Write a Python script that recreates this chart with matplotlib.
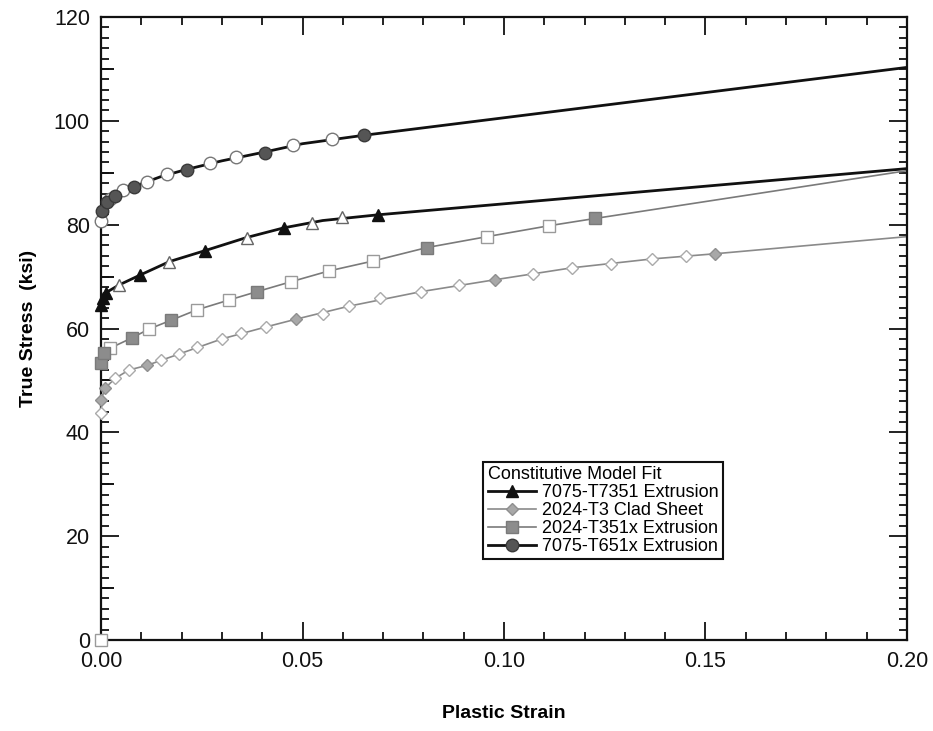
import matplotlib
matplotlib.use("Agg")
import matplotlib.pyplot as plt
from matplotlib.ticker import MultipleLocator

plt.rcParams['font.family'] = ['Liberation Sans', 'DejaVu Sans']

# 7075-T651x extrusion (circles)
t651_fit_x = [0.0, 0.0015, 0.0035, 0.008, 0.015, 0.021, 0.030, 0.040, 0.050, 0.065, 0.20]
t651_fit_y = [82.7, 84.3, 85.6, 87.3, 89.3, 90.6, 92.3, 93.9, 95.6, 97.2, 110.3]
t651_fill_x = [0.0002, 0.0015, 0.0035, 0.0082, 0.0213, 0.0407, 0.0653]
t651_fill_y = [82.7, 84.3, 85.6, 87.3, 90.6, 93.9, 97.2]
t651_open_x = [0.0, 0.0022, 0.0055, 0.0114, 0.0164, 0.027, 0.0335, 0.0476, 0.0573]
t651_open_y = [80.8, 85.0, 86.6, 88.3, 89.7, 91.8, 93.1, 95.3, 96.6]

# 7075-T7351 extrusion (triangles)
t7351_fit_x = [0.0, 0.0005, 0.0012, 0.0045, 0.0097, 0.017, 0.0258, 0.036, 0.0454, 0.055, 0.0687, 0.20]
t7351_fit_y = [64.5, 65.8, 66.9, 68.4, 70.3, 72.9, 75.0, 77.5, 79.4, 80.8, 81.9, 90.8]
t7351_fill_x = [0.0, 0.0005, 0.0012, 0.0097, 0.0258, 0.0454, 0.0687]
t7351_fill_y = [64.5, 65.8, 66.9, 70.3, 75.0, 79.4, 81.9]
t7351_open_x = [0.0045, 0.0169, 0.0362, 0.0524, 0.0598]
t7351_open_y = [68.4, 72.9, 77.5, 80.4, 81.4]

# 2024-T351x extrusion (squares)
t351_fit_x = [0.0, 0.0007, 0.0022, 0.0077, 0.0119, 0.0174, 0.0238, 0.0318, 0.0387, 0.0471,
              0.0566, 0.0675, 0.0809, 0.0958, 0.1112, 0.1226, 0.20]
t351_fit_y = [53.3, 55.3, 56.2, 58.2, 59.9, 61.6, 63.6, 65.5, 67.1, 69.0,
              71.1, 73.0, 75.6, 77.7, 79.8, 81.2, 90.4]
t351_fill_x = [0.0, 0.0007, 0.0077, 0.0174, 0.0387, 0.0809, 0.1226]
t351_fill_y = [53.3, 55.3, 58.2, 61.6, 67.1, 75.6, 81.2]
t351_open_x = [0.0, 0.0022, 0.0119, 0.0238, 0.0318, 0.0471, 0.0566, 0.0675, 0.0958, 0.1112]
t351_open_y = [0.0, 56.2, 59.9, 63.6, 65.5, 69.0, 71.1, 73.0, 77.7, 79.8]

# 2024-T3 clad sheet (diamonds)
t3_fit_x = [0.0, 0.001, 0.0035, 0.0069, 0.0114, 0.0194, 0.030, 0.0409, 0.0484, 0.0615,
            0.0794, 0.0978, 0.1169, 0.1367, 0.1524, 0.20]
t3_fit_y = [46.2, 48.5, 50.4, 52.0, 52.9, 55.1, 58.0, 60.3, 61.8, 64.3,
            67.1, 69.4, 71.7, 73.4, 74.4, 77.7]
t3_fill_x = [0.0, 0.001, 0.0114, 0.0484, 0.0978, 0.1524]
t3_fill_y = [46.2, 48.5, 52.9, 61.8, 69.4, 74.4]
t3_open_x = [0.0, 0.0035, 0.0069, 0.0149, 0.0194, 0.0238, 0.030, 0.0347, 0.0409, 0.0551,
             0.0615, 0.0692, 0.0794, 0.0888, 0.1072, 0.1169, 0.1266, 0.1367, 0.1452]
t3_open_y = [43.7, 50.4, 52.0, 53.9, 55.1, 56.4, 58.0, 59.1, 60.3, 62.8,
             64.3, 65.9, 67.1, 68.4, 70.5, 71.7, 72.5, 73.4, 74.0]


def draw_series(ax, fit_x, fit_y, fill_x, fill_y, open_x, open_y,
                line_color, lw, marker, ms, fill_color, edge_color, open_edge, label):
    ax.plot(fit_x, fit_y, color=line_color, lw=lw, zorder=2)
    ax.plot(open_x, open_y, ls='none', marker=marker, ms=ms, mfc='white',
            mec=open_edge, mew=1.0, zorder=3, clip_on=False)
    ax.plot(fill_x, fill_y, ls='none', marker=marker, ms=ms, mfc=fill_color,
            mec=edge_color, mew=1.0, zorder=4, clip_on=False)
    # legend handle only
    ax.plot([], [], color=line_color, lw=lw, marker=marker, ms=ms,
            mfc=fill_color, mec=edge_color, label=label)


fig = plt.figure(figsize=(9.33, 7.31), dpi=100)
ax = fig.add_axes([0.1083, 0.1245, 0.8638, 0.8522])

draw_series(ax, t7351_fit_x, t7351_fit_y, t7351_fill_x, t7351_fill_y, t7351_open_x, t7351_open_y,
            '#111111', 2.0, '^', 8, '#111111', '#111111', '#666666', '7075-T7351 Extrusion')
draw_series(ax, t3_fit_x, t3_fit_y, t3_fill_x, t3_fill_y, t3_open_x, t3_open_y,
            '#8a8a8a', 1.2, 'D', 6.5, '#a8a8a8', '#8f8f8f', '#aaaaaa', '2024-T3 Clad Sheet')
draw_series(ax, t351_fit_x, t351_fit_y, t351_fill_x, t351_fill_y, t351_open_x, t351_open_y,
            '#7a7a7a', 1.2, 's', 8, '#8c8c8c', '#7a7a7a', '#9a9a9a', '2024-T351x Extrusion')
draw_series(ax, t651_fit_x, t651_fit_y, t651_fill_x, t651_fill_y, t651_open_x, t651_open_y,
            '#111111', 2.0, 'o', 9, '#555555', '#3a3a3a', '#777777', '7075-T651x Extrusion')

ax.set_xlim(0, 0.20)
ax.set_ylim(0, 120)
ax.xaxis.set_major_locator(MultipleLocator(0.05))
ax.xaxis.set_minor_locator(MultipleLocator(0.01))
ax.yaxis.set_major_locator(MultipleLocator(20))
ax.yaxis.set_minor_locator(MultipleLocator(2))
ax.xaxis.set_major_formatter(matplotlib.ticker.FormatStrFormatter('%.2f'))
ax.tick_params(which='both', direction='in', top=True, right=True, width=1.3, colors='#111111')
ax.tick_params(which='major', length=13, labelsize=15.5, pad=8)
ax.tick_params(which='minor', length=5.5)
for sp in ax.spines.values():
    sp.set_linewidth(1.6)
    sp.set_color('#111111')

# medium ticks every 10 on the left axis
mid = ax.secondary_yaxis('left')
mid.set_yticks([10, 30, 50, 70, 90, 110])
mid.tick_params(direction='in', length=9, width=1.3, labelleft=False)
mid.spines['left'].set_visible(False)

ax.set_xlabel('Plastic Strain', fontsize=14, fontweight='bold', labelpad=24)
ax.set_ylabel('True Stress  (ksi)', fontsize=14, fontweight='bold', labelpad=12)

leg = ax.legend(loc='upper left', bbox_to_anchor=(0.474, 0.286), borderaxespad=0,
                title='Constitutive Model Fit', alignment='left', fontsize=13,
                title_fontsize=13, fancybox=False, framealpha=1, edgecolor='#111111',
                handlelength=2.7, handletextpad=0.3, labelspacing=0.05, borderpad=0.25)
leg.get_frame().set_linewidth(1.5)

fig.savefig('out.png', dpi=100)
